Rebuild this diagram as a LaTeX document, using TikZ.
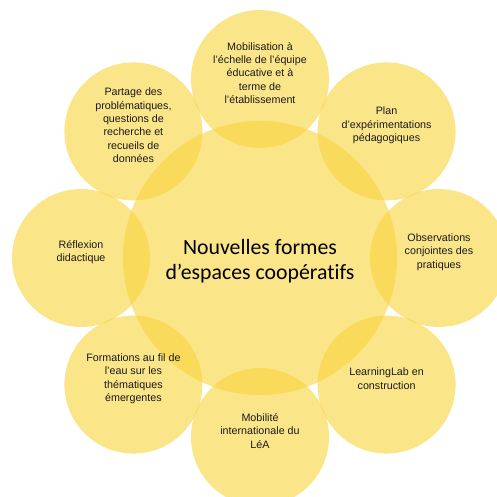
\documentclass[tikz,border=0pt]{standalone}
\usepackage{fontspec}
\setmainfont{Liberation Sans}
\newfontfamily\carlito[Ligatures=NoCommon]{Carlito}
\usetikzlibrary{positioning}

\definecolor{disc}{HTML}{F9D33B}

\begin{document}
\begin{tikzpicture}[
  font=\fontsize{6.1}{7.6}\selectfont, line cap=round,
  lbl/.style={align=center, yshift=1.2mm, text=black!90},
  centre/.style={circle, minimum size=5.48cm, inner sep=0pt, fill=disc, fill opacity=0.6, text opacity=1},
  petal/.style={circle, minimum size=2.76cm, inner sep=0pt, fill=disc, fill opacity=0.6, text opacity=1}
]
\useasboundingbox (-5.2,-4.78) rectangle (4.74,5.16);
\clip (-5.2,-4.78) rectangle (4.74,5.16);

\node[centre] (hub) at (0,0) {};
\node[align=center, font=\carlito\fontsize{12.4}{14.4}\selectfont] (hub-txt) at (0,-0.07) {Nouvelles formes\\d’espaces coopératifs};

\node[petal,label={[lbl]center:Mobilisation à\\l’échelle de l’équipe\\éducative et à\\terme de\\l’établissement}] (p-top) at (90:3.58) {};
\node[petal,label={[lbl]center:Plan\\d’expérimentations\\pédagogiques}] (p-ne) at (45:3.58) {};
\node[petal,label={[lbl]center:Observations\\conjointes des\\pratiques}] (p-e) at (0:3.58) {};
\node[petal,label={[lbl]center:LearningLab en\\construction}] (p-se) at (-45:3.58) {};
\node[petal,label={[lbl]center:Mobilité\\internationale du\\LéA}] (p-bot) at (-90:3.58) {};
\node[petal,label={[lbl]center:Formations au fil de\\l’eau sur les\\thématiques\\émergentes}] (p-sw) at (-135:3.58) {};
\node[petal,label={[lbl]center:Réflexion\\didactique}] (p-w) at (180:3.58) {};
\node[petal,label={[lbl]center:Partage des\\problématiques,\\questions de\\recherche et\\recueils de\\données}] (p-nw) at (135:3.58) {};
\end{tikzpicture}
\end{document}
